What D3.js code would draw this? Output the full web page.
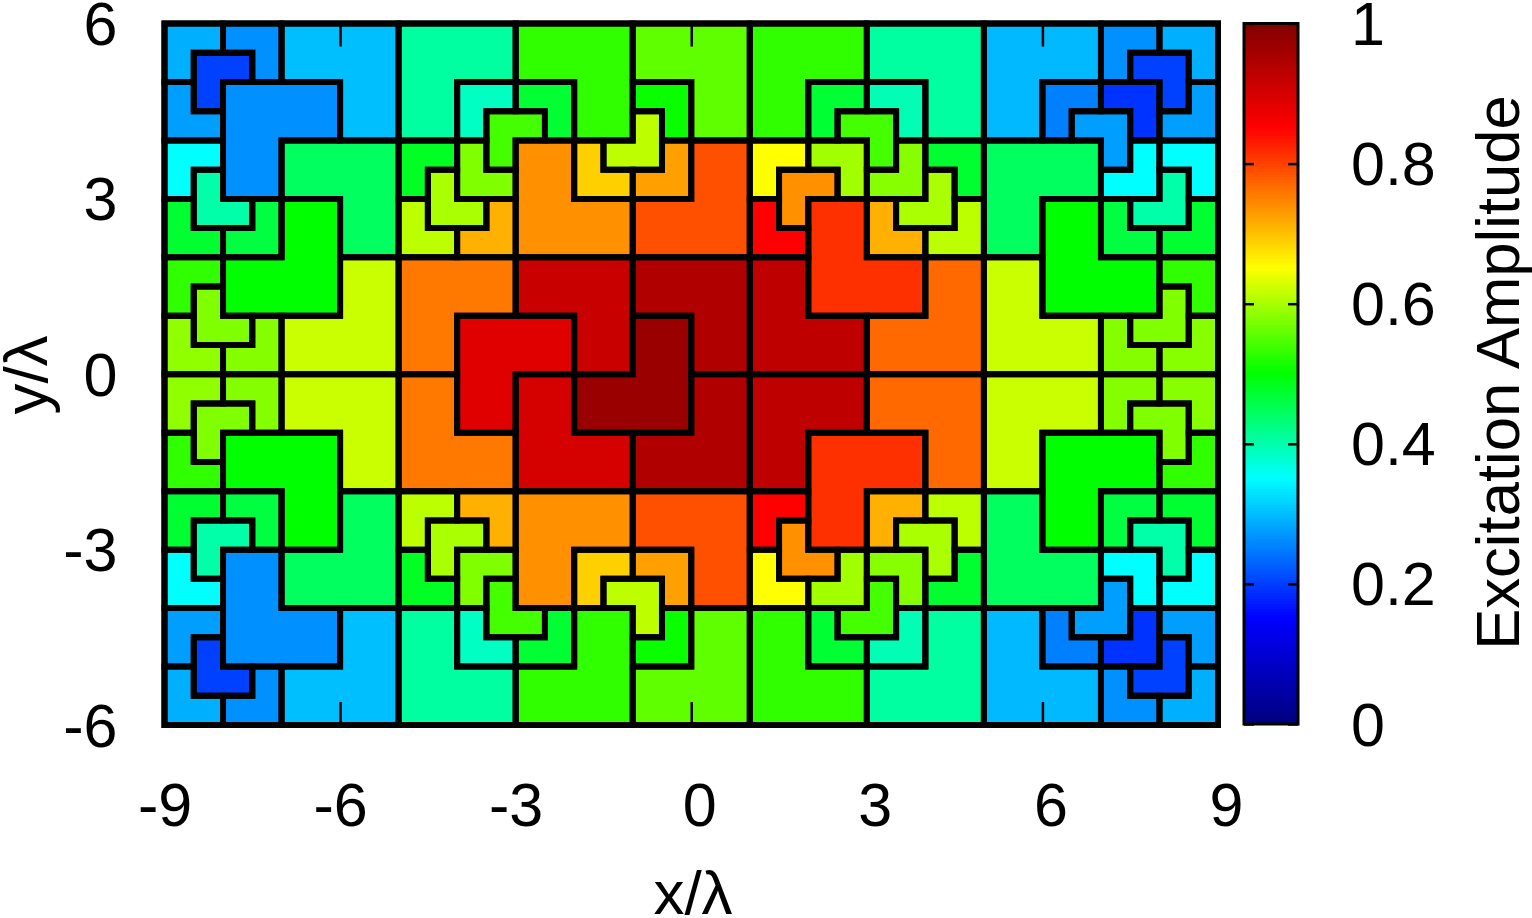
<!DOCTYPE html>
<html>
<head>
<meta charset="utf-8">
<style>
html,body{margin:0;padding:0;background:#fff;}
svg{display:block;}
text{font-family:"Liberation Sans",Arial,sans-serif;fill:#000;}
</style>
<script src="https://cdn.jsdelivr.net/npm/d3@7/dist/d3.min.js"></script>
</head>
<body>
<svg id="chart" width="1532" height="918"></svg>
<script>
// Each tile: [left x, bottom y, size, missing quadrant, excitation amplitude]
const tilesUpperLeft = [
  [-9,5,1,"SE",.288],[-8,5,1,"SW",.263],[-8.5,4.5,1,"SE",.20],[-8,3,2,"SE",.263],[-7,4,2,"SW",.30],
  [-9,4,1,"NE",.275],[-9,3,1,"SE",.35],[-8.5,2.5,1,"NE",.401],[-9,2,1,"NE",.472],[-8,2,1,"NW",.462],
  [-7,2,2,"SW",.444],[-8,1,2,"NW",.5],[-9,1,1,"SE",.528],[-8.5,.5,1,"NE",.575],[-9,0,1,"NE",.585],
  [-8,0,1,"NW",.578],[-7,0,2,"NW",.618]
];
const tilesUpperMiddle = [
  [-5,4,2,"SE",.406],[-4,4,1,"SE",.386],[-3,4,2,"SW",.528],[-3,4,1,"SW",.47],[-3.5,3.5,1,"SE",.54],
  [-4,3,1,"NE",.575],[-5,3,1,"SE",.48],[-5,2,1,"NE",.61],[-4.5,2.5,1,"NE",.60],[-4,2,1,"NW",.712],
  [-3,2,2,"NE",.737],[-2,3,1,"NE",.687],[-1.5,3.5,1,"NW",.612],[-1,3,1,"NW",.725],[-1,2,2,"NW",.787],
  [-1,4,1,"SW",.505],[-1,4,2,"SW",.556],
  [1,4,2,"SE",.528],[2,4,1,"SE",.47],[3,4,1,"SW",.394],[2.5,3.5,1,"SW",.54],[3,4,2,"SW",.406],
  [1,3,1,"SE",.65],[2,3,1,"SW",.595],[1.5,2.5,1,"SE",.737],[1,2,1,"NE",.85],[2,1,2,"NE",.812],
  [3,3,1,"NW",.58],[4,3,1,"SW",.472],[3.5,2.5,1,"NW",.60],[3,2,1,"NE",.712],[4,2,1,"NW",.61]
];
const tilesUpperRight = [
  [5,4,2,"SE",.295],[6,4,1,"SE",.25],[6.5,3.5,1,"SW",.275],[7,5,1,"SE",.263],[7,4,1,"SW",.19],
  [7.5,4.5,1,"SW",.20],[8,5,1,"SW",.288],[8,4,1,"NW",.275],[7,3,1,"NW",.35],[8,3,1,"SW",.35],
  [7.5,2.5,1,"NW",.401],[5,2,2,"SE",.444],[6,1,2,"NE",.5],[7,2,1,"NE",.462],[8,2,1,"NW",.472],
  [5,0,2,"NE",.618],[7,0,1,"NE",.578],[7.5,.5,1,"NW",.575],[8,0,1,"NW",.58],[8,1,1,"SW",.528]
];
const tilesCentre = [
  [-5,0,2,"SE",.756],[-4,-1,2,"SE",.885],[-3,0,2,"SW",.915],[-1,0,2,"SW",.943],[-2,-1,2,"NW",.969],
  [-3,-2,2,"NE",.90],[-1,-2,2,"NW",.943],[-5,-2,2,"NE",.756],[1,0,2,"NE",.925],[1,-2,2,"SE",.925],
  [3,0,2,"NW",.768],[3,-2,2,"SW",.768],[2,-3,2,"SE",.812],[5,-2,2,"SE",.618]
];
const tilesLowerLeft = [
  [-9,-6,1,"NE",.288],[-8,-6,1,"NW",.263],[-8.5,-5.5,1,"NE",.20],[-8,-5,2,"NE",.263],[-7,-6,2,"NW",.30],
  [-9,-5,1,"SE",.275],[-9,-4,1,"NE",.35],[-8.5,-3.5,1,"SE",.401],[-9,-3,1,"SE",.472],[-8,-3,1,"SW",.462],
  [-7,-4,2,"NW",.444],[-8,-3,2,"SW",.5],[-9,-2,1,"NE",.528],[-8.5,-1.5,1,"SE",.575],[-9,-1,1,"SE",.585],
  [-8,-1,1,"SW",.578],[-7,-2,2,"SW",.618]
];
const tilesLowerMiddle = [
  [-5,-6,2,"NE",.406],[-4,-5,1,"NE",.386],[-3,-6,2,"NW",.528],[-3,-5,1,"NW",.47],[-3.5,-4.5,1,"NE",.54],
  [-4,-4,1,"SE",.575],[-5,-4,1,"NE",.48],[-5,-3,1,"SE",.61],[-4.5,-3.5,1,"SE",.60],[-4,-3,1,"SW",.712],
  [-3,-4,2,"SE",.737],[-2,-4,1,"SE",.687],[-1.5,-4.5,1,"SW",.612],[-1,-4,1,"SW",.725],[-1,-4,2,"SW",.787],
  [-1,-5,1,"NW",.505],[-1,-6,2,"NW",.556],
  [1,-6,2,"NE",.528],[2,-5,1,"NE",.47],[3,-5,1,"NW",.394],[2.5,-4.5,1,"NW",.54],[3,-6,2,"NW",.406],
  [1,-4,1,"NE",.65],[2,-4,1,"NW",.595],[1.5,-3.5,1,"NE",.737],[1,-3,1,"SE",.85],
  [3,-4,1,"SW",.58],[4,-4,1,"NW",.472],[3.5,-3.5,1,"SW",.60],[3,-3,1,"SE",.712],[4,-3,1,"SW",.61]
];
const tilesLowerRight = [
  [5,-6,2,"NE",.295],[6,-5,1,"NE",.25],[6.5,-4.5,1,"NW",.275],[7,-6,1,"NE",.263],[7,-5,1,"NW",.19],
  [7.5,-5.5,1,"NW",.20],[8,-6,1,"NW",.288],[8,-5,1,"SW",.275],[7,-4,1,"SW",.35],[8,-4,1,"NW",.35],
  [7.5,-3.5,1,"SW",.401],[5,-4,2,"NE",.444],[6,-3,2,"SE",.5],[7,-3,1,"SE",.462],[8,-3,1,"SW",.472],
  [7,-1,1,"SE",.578],[7.5,-1.5,1,"SW",.575],[8,-1,1,"SW",.58],[8,-2,1,"NW",.528]
];
const xTickValues = [-9,-6,-3,0,3,6,9];
const yTickValues = [-6,-3,0,3,6];
const colorTickValues = [0,.2,.4,.6,.8,1];
const colorStops = [0,.15,.35,.5,.65,.85,1];
const colorRamp = ["#000080","#0000ff","#00ffff","#00ff00","#ffff00","#ff0000","#800000"];

const svg = d3.select("#chart");
const x = d3.scaleLinear().domain([-9,9]).range([164.5,1218]);
const y = d3.scaleLinear().domain([-6,6]).range([725,23.5]);
const color = d3.scaleLinear().domain(colorStops).range(colorRamp).clamp(true);
const cbY = d3.scaleLinear().domain([0,1]).range([724,23.5]);
const cbLeft = 1244, cbRight = 1298;

function outline(t){
  const [l,b,s,n] = t, h = s/2, r = l+s, u = b+s, mx = l+h, my = b+h;
  if(n==="NE") return [[l,b],[r,b],[r,my],[mx,my],[mx,u],[l,u]];
  if(n==="NW") return [[l,b],[r,b],[r,u],[mx,u],[mx,my],[l,my]];
  if(n==="SE") return [[l,b],[mx,b],[mx,my],[r,my],[r,u],[l,u]];
  return [[mx,b],[r,b],[r,u],[l,u],[l,my],[mx,my]];
}
const line = d3.line().x(p=>x(p[0])).y(p=>y(p[1])).curve(d3.curveLinearClosed);
const tiles = [].concat(tilesUpperLeft,tilesUpperMiddle,tilesUpperRight,tilesCentre,tilesLowerLeft,tilesLowerMiddle,tilesLowerRight);

svg.append("g").selectAll("path").data(tiles).join("path")
  .attr("d",t=>line(outline(t)))
  .attr("fill",t=>color(t[4]));
svg.append("g").selectAll("path").data(tiles).join("path")
  .attr("d",t=>line(outline(t)))
  .attr("fill","none").attr("stroke","#000").attr("stroke-width",6)
  .attr("stroke-linejoin","miter");

svg.append("rect").attr("x",x(-9)).attr("y",y(6)).attr("width",x(9)-x(-9)).attr("height",y(-6)-y(6))
  .attr("fill","none").attr("stroke","#000").attr("stroke-width",6);

// Axes
const fontSize = 61;
function styleAxis(g){
  g.select(".domain").remove();
  g.selectAll("line").attr("stroke","#000").attr("stroke-width",2.5);
  g.selectAll("text").style("font-size",fontSize+"px").style("font-family",'"Liberation Sans",Arial,sans-serif').attr("fill","#000");
}
const fmt = d=>String(d);
const xAxis = svg.append("g").attr("transform",`translate(0,${y(-6)})`)
  .call(d3.axisBottom(x).tickValues(xTickValues).tickFormat(fmt).tickSize(-23).tickPadding(0));
styleAxis(xAxis);
xAxis.selectAll("text").attr("y",0).attr("dy",0)
  .attr("transform",d=>`translate(${d>=0?8:0},101)`);
const xAxisTop = svg.append("g").attr("transform",`translate(0,${y(6)})`)
  .call(d3.axisTop(x).tickValues(xTickValues).tickFormat("").tickSize(-23));
styleAxis(xAxisTop);

const yAxis = svg.append("g").attr("transform",`translate(${x(-9)},0)`)
  .call(d3.axisLeft(y).tickValues(yTickValues).tickFormat(fmt).tickSize(-23).tickPadding(0));
styleAxis(yAxis);
yAxis.selectAll("text").attr("x",-47).attr("dy",0).attr("y",21);
const yAxisRight = svg.append("g").attr("transform",`translate(${x(9)},0)`)
  .call(d3.axisRight(y).tickValues(yTickValues).tickFormat("").tickSize(-23));
styleAxis(yAxisRight);

// Colour bar
const bands = d3.range(0,256).map(i=>i/256);
svg.append("g").selectAll("rect").data(bands).join("rect")
  .attr("x",cbLeft).attr("width",cbRight-cbLeft)
  .attr("y",d=>cbY(d+1/256)-0.5).attr("height",d=>cbY(d)-cbY(d+1/256)+1)
  .attr("fill",d=>color(d));
const cbAxis = svg.append("g").attr("transform",`translate(${cbRight},0)`)
  .call(d3.axisLeft(cbY).tickValues(colorTickValues).tickFormat("").tickSize(-10).tickSizeOuter(0));
styleAxis(cbAxis);
cbAxis.selectAll("line").attr("x2",-10);
const cbAxisL = svg.append("g").attr("transform",`translate(${cbLeft},0)`)
  .call(d3.axisRight(cbY).tickValues(colorTickValues).tickFormat(fmt).tickSize(10).tickPadding(0));
styleAxis(cbAxisL);
cbAxisL.selectAll("text").attr("x",107).attr("dy",0).attr("y",21);
svg.append("rect").attr("x",cbLeft).attr("y",cbY(1)).attr("width",cbRight-cbLeft).attr("height",cbY(0)-cbY(1))
  .attr("fill","none").attr("stroke","#000").attr("stroke-width",3);

// Axis titles
svg.append("text").attr("x",693).attr("y",914).attr("text-anchor","middle").style("font-size","62px").text("x/λ");
svg.append("text").attr("transform","translate(47,375) rotate(-90)").attr("text-anchor","middle").style("font-size","62px").text("y/λ");
svg.append("text").attr("transform","translate(1519,372.5) rotate(-90)").attr("text-anchor","middle").style("font-size","61.6px").text("Excitation Amplitude");
</script>
</body>
</html>
